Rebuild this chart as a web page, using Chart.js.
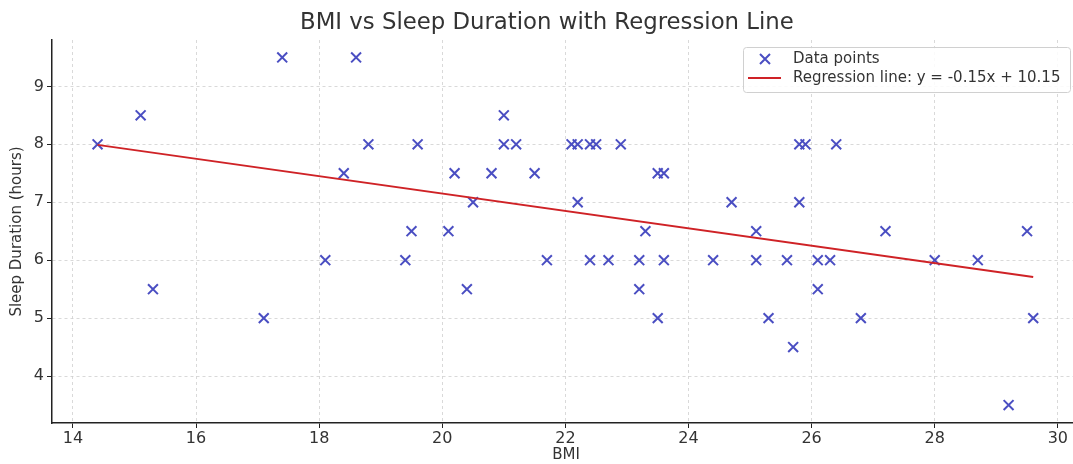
<!DOCTYPE html>
<html>
<head>
<meta charset="utf-8">
<title>BMI vs Sleep Duration</title>
<script src="https://cdn.jsdelivr.net/npm/chart.js@4.4.0/dist/chart.umd.min.js"></script>
<style>
  body { margin: 0; background: #fff; overflow: hidden; }
  canvas { display: block; }
</style>
</head>
<body>
<!-- the reference figure is cut off on the right, so the canvas runs past the window -->
<canvas id="myChart" width="1089" height="464"></canvas>
<script>
// data
const bmi = [14.4, 15.1, 15.3, 17.1, 17.4, 18.1, 18.4, 18.6, 18.8, 19.4,
             19.5, 19.6, 20.1, 20.2, 20.4, 20.5, 20.8, 21.0, 21.0, 21.2,
             21.5, 21.7, 22.1, 22.2, 22.2, 22.4, 22.4, 22.5, 22.7, 22.9,
             23.2, 23.2, 23.3, 23.5, 23.5, 23.6, 23.6, 24.4, 24.7, 25.1,
             25.1, 25.3, 25.6, 25.7, 25.8, 25.8, 25.9, 26.1, 26.1, 26.3,
             26.4, 26.8, 27.2, 28.0, 28.7, 29.2, 29.5, 29.6];
const sleep = [8.0, 8.5, 5.5, 5.0, 9.5, 6.0, 7.5, 9.5, 8.0, 6.0,
               6.5, 8.0, 6.5, 7.5, 5.5, 7.0, 7.5, 8.5, 8.0, 8.0,
               7.5, 6.0, 8.0, 8.0, 7.0, 6.0, 8.0, 8.0, 6.0, 8.0,
               6.0, 5.5, 6.5, 7.5, 5.0, 7.5, 6.0, 6.0, 7.0, 6.5,
               6.0, 5.0, 6.0, 4.5, 7.0, 8.0, 8.0, 6.0, 5.5, 6.0,
               8.0, 5.0, 6.5, 6.0, 6.0, 3.5, 6.5, 5.0];
// regression line end points
const regX = [14.4, 29.6];
const regY = [7.99, 5.71];

const chartTitle = 'BMI vs Sleep Duration with Regression Line';
const pointsLabel = 'Data points';
const lineLabel = 'Regression line: y = -0.15x + 10.15';
const xTicks = [14, 16, 18, 20, 22, 24, 26, 28, 30];
const yTicks = [4, 5, 6, 7, 8, 9];

const markerColor = '#4a4ec2';
const lineColor = '#cf2226';
const textColor = '#333333';
const font = '"DejaVu Sans", Verdana, sans-serif';

const titlePlugin = {
    id: 'plotTitle',
    afterDraw(chart) {
        const ctx = chart.ctx;
        const x = chart.scales.x.getPixelForValue(21.7);
        ctx.save();
        ctx.font = '22.8px ' + font;
        ctx.fillStyle = textColor;
        ctx.textAlign = 'center';
        ctx.textBaseline = 'middle';
        ctx.fillText(chartTitle, x, 23);
        ctx.restore();
    }
};

// legend box in the upper right corner, like matplotlib
const legendPlugin = {
    id: 'boxLegend',
    afterDraw(chart) {
        const ctx = chart.ctx;
        const left = 743, top = 47, w = 327, h = 45;
        ctx.save();
        ctx.fillStyle = 'rgba(255,255,255,0.85)';
        ctx.strokeStyle = '#d0d0d0';
        ctx.lineWidth = 1;
        ctx.beginPath();
        ctx.roundRect(left + 0.5, top + 0.5, w, h, 3);
        ctx.fill();
        ctx.stroke();

        // cross marker
        ctx.strokeStyle = markerColor;
        ctx.lineWidth = 2;
        ctx.beginPath();
        ctx.moveTo(760, 54); ctx.lineTo(770, 64);
        ctx.moveTo(770, 54); ctx.lineTo(760, 64);
        ctx.stroke();

        // red line
        ctx.strokeStyle = lineColor;
        ctx.beginPath();
        ctx.moveTo(748, 78); ctx.lineTo(781, 78);
        ctx.stroke();

        ctx.font = '15px ' + font;
        ctx.fillStyle = textColor;
        ctx.textBaseline = 'middle';
        ctx.fillText(pointsLabel, 793, 59);
        ctx.fillText(lineLabel, 793, 78);
        ctx.restore();
    }
};

const scatterData = bmi.map((v, i) => ({ x: v, y: sleep[i] }));
const lineData = regX.map((v, i) => ({ x: v, y: regY[i] }));

const gridStyle = {
    color: '#d0d0d0',
    lineWidth: 0.8,
    drawTicks: true,
    tickLength: 5,
    tickColor: '#222',
    tickWidth: 1,
    tickBorderDash: [],
};

const ctx = document.getElementById('myChart').getContext('2d');
const myChart = new Chart(ctx, {
    type: 'scatter',
    data: {
        datasets: [
            {
                label: lineLabel,
                type: 'line',
                data: lineData,
                borderColor: lineColor,
                borderWidth: 2,
                pointRadius: 0,
                fill: false,
                order: 0,
            },
            {
                label: pointsLabel,
                data: scatterData,
                pointStyle: 'crossRot',
                pointRadius: 7,
                borderWidth: 2,
                borderColor: markerColor,
                backgroundColor: markerColor,
                order: 1,
            },
        ],
    },
    options: {
        responsive: false,
        animation: false,
        layout: { padding: { top: 40, right: 0, bottom: 0, left: 0 } },
        scales: {
            x: {
                type: 'linear',
                min: 13.66,
                max: 30.36,
                afterFit: (scale) => { scale.height = 41; },
                afterBuildTicks: (scale) => { scale.ticks = xTicks.map(v => ({ value: v })); },
                ticks: { color: textColor, font: { family: font, size: 16 }, padding: 1, includeBounds: false },
                grid: gridStyle,
                border: { display: true, color: '#222', width: 1.5, dash: [3, 3] },
                title: { display: true, text: 'BMI', color: textColor, font: { family: font, size: 15 }, padding: { top: 0, bottom: 0 } },
            },
            y: {
                type: 'linear',
                min: 3.19,
                max: 9.8,
                afterFit: (scale) => { scale.width = 52; },
                afterBuildTicks: (scale) => { scale.ticks = yTicks.map(v => ({ value: v })); },
                ticks: { color: textColor, font: { family: font, size: 16 }, padding: 3, includeBounds: false },
                grid: gridStyle,
                border: { display: true, color: '#222', width: 1.5, dash: [3, 3] },
                title: { display: true, text: 'Sleep Duration (hours)', color: textColor, font: { family: font, size: 15 }, padding: { top: 8, bottom: 0 } },
            },
        },
        plugins: {
            legend: { display: false },
            tooltip: { enabled: false },
        },
    },
    plugins: [titlePlugin, legendPlugin],
});
</script>
</body>
</html>
